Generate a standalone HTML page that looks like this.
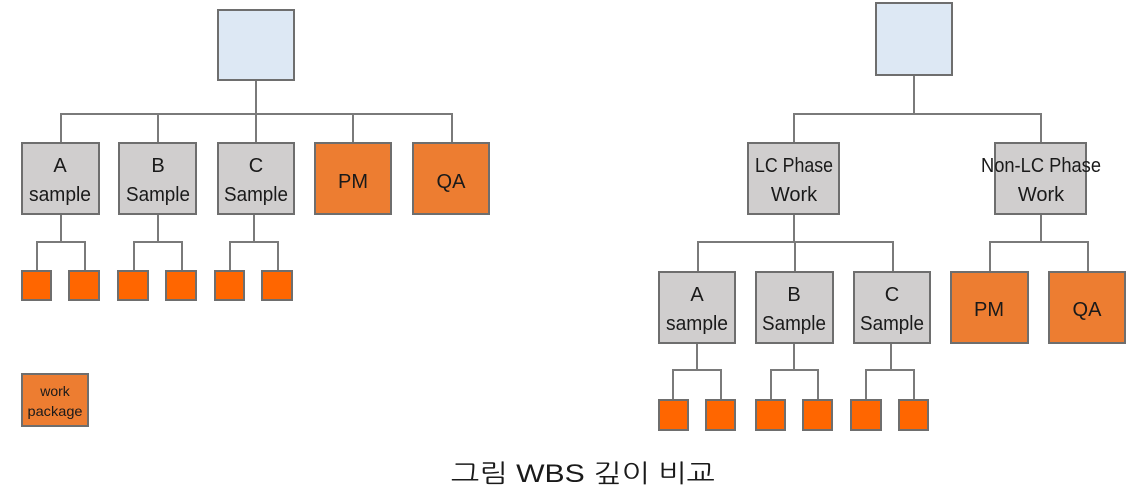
<!DOCTYPE html>
<html><head><meta charset="utf-8"><style>
html,body{margin:0;padding:0;background:#fff;width:1135px;height:493px;overflow:hidden}
svg text{font-family:"Liberation Sans",sans-serif;fill:#1a1a1a}
</style></head><body>
<svg width="1135" height="493" xmlns="http://www.w3.org/2000/svg">
<g fill="none" stroke="#7a7a7a" stroke-width="2">
<path d="M256 80V114M61 143V114H452V143M158 114V143M256 114V143M353 114V143"/>
<path d="M61 214V242M37 271V242H85V271"/>
<path d="M158 214V242M134 271V242H182V271"/>
<path d="M254 214V242M230 271V242H278V271"/>
<path d="M914 75V114M794 143V114H1041V143"/>
<path d="M794 214V242M698 272V242H893V272M795 242V272"/>
<path d="M1041 214V242M990 272V242H1088V272"/>
<path d="M697 343V370M673 400V370H721V400"/>
<path d="M794 343V370M771 400V370H818V400"/>
<path d="M891 343V370M866 400V370H914V400"/>
</g>
<g stroke="#6e6e6e" stroke-width="2">
<rect x="218" y="10" width="76" height="70" fill="#dde8f4"/>
<rect x="876" y="3" width="76" height="72" fill="#dde8f4"/>
<g fill="#d0cece">
<rect x="22" y="143" width="77" height="71"/>
<rect x="119" y="143" width="77" height="71"/>
<rect x="218" y="143" width="76" height="71"/>
<rect x="748" y="143" width="91" height="71"/>
<rect x="995" y="143" width="91" height="71"/>
<rect x="659" y="272" width="76" height="71"/>
<rect x="756" y="272" width="77" height="71"/>
<rect x="854" y="272" width="76" height="71"/>
</g>
<g fill="#ed7d31">
<rect x="315" y="143" width="76" height="71"/>
<rect x="413" y="143" width="76" height="71"/>
<rect x="951" y="272" width="77" height="71"/>
<rect x="1049" y="272" width="76" height="71"/>
<rect x="22" y="374" width="66" height="52"/>
</g>
<g fill="#ff6600">
<rect x="22" y="271" width="29" height="29"/><rect x="69" y="271" width="30" height="29"/>
<rect x="118" y="271" width="30" height="29"/><rect x="166" y="271" width="30" height="29"/>
<rect x="215" y="271" width="29" height="29"/><rect x="262" y="271" width="30" height="29"/>
<rect x="659" y="400" width="29" height="30"/><rect x="706" y="400" width="29" height="30"/>
<rect x="756" y="400" width="29" height="30"/><rect x="803" y="400" width="29" height="30"/>
<rect x="851" y="400" width="30" height="30"/><rect x="899" y="400" width="29" height="30"/>
</g>
</g>
<g font-size="20" text-anchor="middle">
<text x="60" y="172">A</text><text x="60" y="201" textLength="62" lengthAdjust="spacingAndGlyphs">sample</text>
<text x="158" y="172">B</text><text x="158" y="201" textLength="64" lengthAdjust="spacingAndGlyphs">Sample</text>
<text x="256" y="172">C</text><text x="256" y="201" textLength="64" lengthAdjust="spacingAndGlyphs">Sample</text>
<text x="353" y="188">PM</text><text x="451" y="188">QA</text>
<text x="794" y="172" textLength="78" lengthAdjust="spacingAndGlyphs">LC Phase</text><text x="794" y="201">Work</text>
<text x="1041" y="172" textLength="120" lengthAdjust="spacingAndGlyphs">Non-LC Phase</text><text x="1041" y="201">Work</text>
<text x="697" y="301">A</text><text x="697" y="330" textLength="62" lengthAdjust="spacingAndGlyphs">sample</text>
<text x="794" y="301">B</text><text x="794" y="330" textLength="64" lengthAdjust="spacingAndGlyphs">Sample</text>
<text x="892" y="301">C</text><text x="892" y="330" textLength="64" lengthAdjust="spacingAndGlyphs">Sample</text>
<text x="989" y="316">PM</text><text x="1087" y="316">QA</text>
</g>
<g font-size="14" text-anchor="middle">
<text x="55" y="396">work</text><text x="55" y="416" textLength="55" lengthAdjust="spacingAndGlyphs">package</text>
</g>
<text x="583" y="482" font-size="25" text-anchor="middle" textLength="264" lengthAdjust="spacingAndGlyphs" style="font-family:'Liberation Sans','NanumGothic','Noto Sans CJK KR',sans-serif" fill="#000">그림 WBS 깊이 비교</text>
</svg>
</body></html>
